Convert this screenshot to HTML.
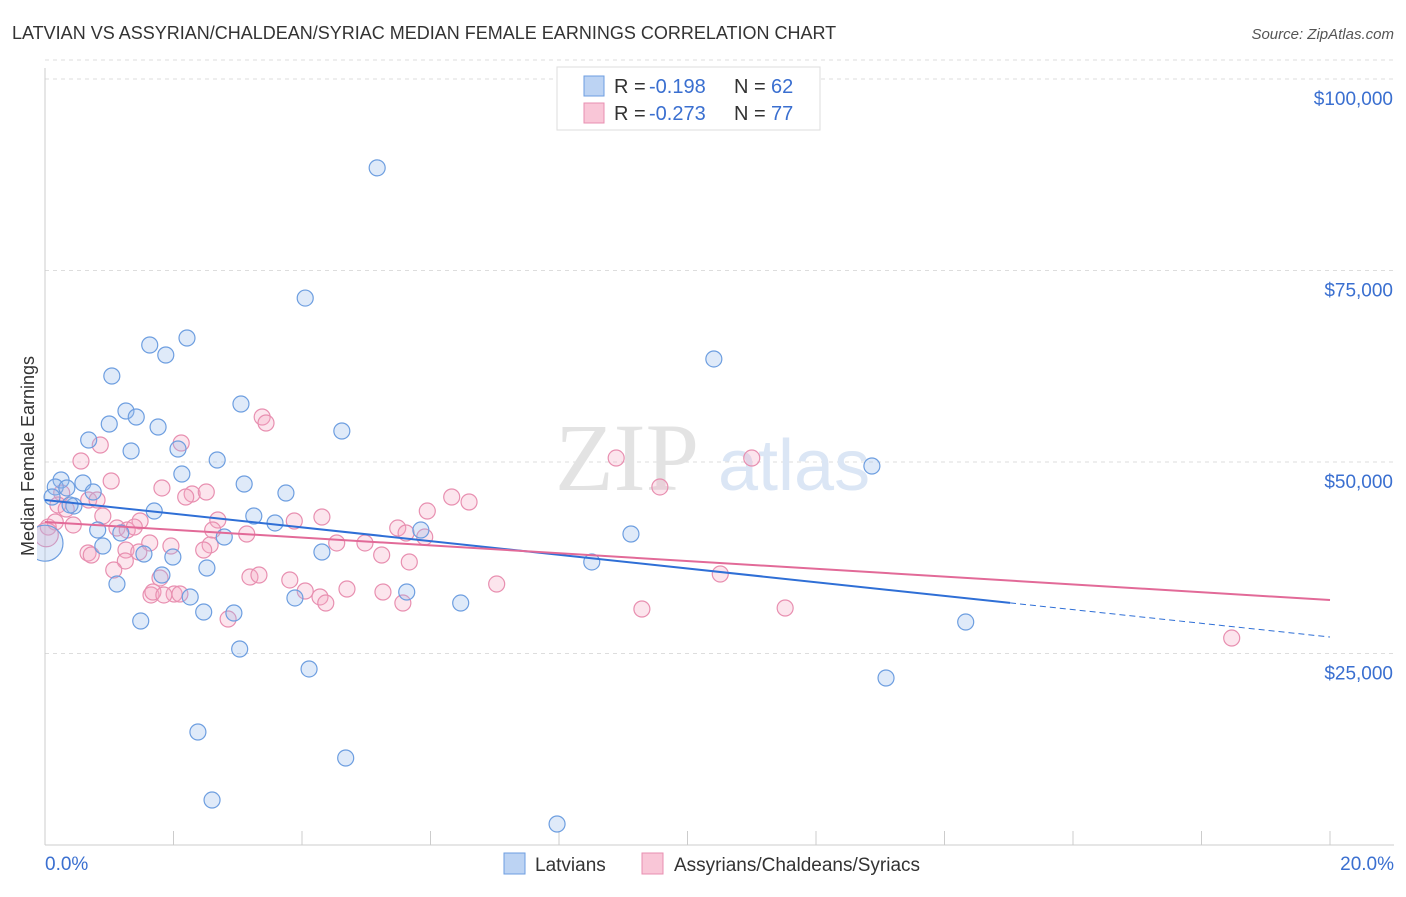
<!DOCTYPE html>
<html><head><meta charset="utf-8"><style>
body{margin:0;background:#fff;font-family:"Liberation Sans",sans-serif;}
</style></head><body>
<svg width="1406" height="892" xmlns="http://www.w3.org/2000/svg" style="font-family:'Liberation Sans',sans-serif">
<defs><clipPath id="plotclip"><rect x="37" y="60" width="1360" height="785"/></clipPath></defs>
<text x="12" y="39" font-size="18" fill="#333">LATVIAN VS ASSYRIAN/CHALDEAN/SYRIAC MEDIAN FEMALE EARNINGS CORRELATION CHART</text>
<text x="1394" y="39" font-size="15" fill="#555" text-anchor="end" font-style="italic">Source: ZipAtlas.com</text>
<g id="grid"></g>
<text x="555" y="490" font-size="96" fill="#e3e3e3" font-family="Liberation Serif,serif">ZIP</text>
<text x="718" y="490" font-size="72" fill="#dbe6f5">atlas</text>
<text transform="translate(34,456) rotate(-90)" font-size="18" fill="#333" text-anchor="middle">Median Female Earnings</text>
<g id="marks" clip-path="url(#plotclip)"></g>
<g id="lines"></g>
<g>
<rect x="557" y="67" width="263" height="63" fill="#fff" stroke="#ddd"/>
<rect x="584" y="76" width="20" height="20" fill="#bcd3f3" stroke="#6d9ee0"/>
<rect x="584" y="103" width="20" height="20" fill="#f9c6d7" stroke="#e88fb0"/>
<text x="614" y="93" font-size="20" fill="#333">R =</text>
<text x="649" y="93" font-size="20" fill="#3a6fd0">-0.198</text>
<text x="734" y="93" font-size="20" fill="#333">N =</text>
<text x="771" y="93" font-size="20" fill="#3a6fd0">62</text>
<text x="614" y="120" font-size="20" fill="#333">R =</text>
<text x="649" y="120" font-size="20" fill="#3a6fd0">-0.273</text>
<text x="734" y="120" font-size="20" fill="#333">N =</text>
<text x="771" y="120" font-size="20" fill="#3a6fd0">77</text>
</g>
<g>
<rect x="504" y="853" width="21" height="21" fill="#bcd3f3" stroke="#6d9ee0"/>
<text x="535" y="871" font-size="19" fill="#333">Latvians</text>
<rect x="642" y="853" width="21" height="21" fill="#f9c6d7" stroke="#e88fb0"/>
<text x="674" y="871" font-size="19" fill="#333">Assyrians/Chaldeans/Syriacs</text>
</g>
</svg>
<script>
const xTicks=[0,2,4,6,8,10,12,14,16,18,20];
const yTicks=[25000,50000,75000,100000];
const yTickLabels=["$25,000","$50,000","$75,000","$100,000"];
const blueX=[5.17,4.05,2.21,1.63,1.88,10.41,1.04,1.26,1.42,3.05,1.00,1.76,4.62,0.68,1.34,2.07,2.68,12.87,2.13,0.25,0.59,0.16,0.34,3.10,0.75,3.75,0.11,0.45,0.39,1.70,3.25,3.58,0.82,1.18,2.79,9.12,5.85,4.31,0.90,1.54,1.99,8.51,2.52,1.82,1.12,5.63,3.89,2.26,6.47,2.94,2.47,1.49,14.33,3.03,4.11,13.09,2.38,4.68,2.60,7.97,0.0];
const blueY=[88400,71400,66190,65275,63970,63450,61230,56660,55875,57570,54960,54570,54050,52870,51440,51700,50260,49480,48430,47650,47260,46740,46610,47130,46080,45950,45430,44260,44390,43600,42950,42040,41120,40730,40210,40600,41120,38250,39030,37990,37600,36950,36160,35250,34070,33030,32250,32380,31590,30290,30420,29240,29110,25590,22980,21800,14750,11360,5870,2740,39400];
const pinkX=[3.38,3.44,2.12,0.86,0.56,8.89,11.00,1.03,1.82,9.57,2.29,2.51,2.19,6.33,6.60,0.26,0.68,0.81,0.20,0.33,5.95,4.31,3.88,2.69,0.90,1.48,0.44,1.12,1.28,1.39,5.49,5.62,5.91,2.61,3.14,0.05,0.16,4.54,4.98,1.63,2.57,1.96,2.47,0.67,0.72,1.26,1.46,5.24,5.67,1.25,1.07,3.19,3.33,1.79,3.81,7.03,10.51,4.05,4.70,1.65,2.01,5.26,1.68,1.85,2.10,4.28,4.37,5.57,9.29,11.52,2.85,18.47,0.02];
const pinkY=[55875,55090,52480,52220,50130,50520,50520,47520,46610,46740,45820,46080,45430,45430,44780,45950,45040,45040,44390,43860,43600,42820,42300,42430,42950,42300,41780,41380,41120,41510,41380,40730,40210,41120,40600,41510,42170,39430,39430,39430,39170,39030,38510,38120,37860,38510,38250,37860,36950,37080,35900,34990,35250,34860,34600,34070,35380,33160,33420,32640,32770,33030,33030,32640,32770,32380,31590,31590,30810,30940,29500,27020,40500];
const blueFit=[45040,-894.5];const pinkFit=[42170,-509.5];const blueSolidEnd=15.02;
const X=v=>45+v/20*1285, Y=v=>845-v/130.55;
const NS="http://www.w3.org/2000/svg";
function mk(t,a,p){const e=document.createElementNS(NS,t);for(const k in a)e.setAttribute(k,a[k]);p.appendChild(e);return e;}
const grid=document.getElementById('grid');
yTicks.forEach((v,i)=>{
 const l=mk('line',{x1:45,x2:1394,y1:Y(v),y2:Y(v),stroke:'#ddd','stroke-dasharray':'4,4'},grid);
 
 
 const t=mk('text',{x:1393,y:Y(v)+26,'font-size':19,fill:'#3a6fd0','text-anchor':'end'},grid);t.textContent=yTickLabels[i];
 
 
});
mk('line',{x1:45,x2:1394,y1:Y(100000)-19,y2:Y(100000)-19,stroke:'#ddd','stroke-dasharray':'4,4'},grid);
mk('line',{x1:45,x2:45,y1:68,y2:845,stroke:'#ccc'},grid);
mk('line',{x1:45,x2:1394,y1:845,y2:845,stroke:'#ccc'},grid);
xTicks.forEach(v=>{const l=mk('line',{x1:X(v),x2:X(v),y1:831,y2:845,stroke:'#ccc'},grid);
 
 });
let t=mk('text',{x:45,y:870,'font-size':19,fill:'#3a6fd0'},grid);t.textContent='0.0%';


t=mk('text',{x:1394,y:870,'font-size':19,fill:'#3a6fd0','text-anchor':'end'},grid);t.textContent='20.0%';


const marks=document.getElementById('marks');
pinkX.forEach((x,i)=>{const c=mk('circle',{cx:X(x),cy:Y(pinkY[i]),r:i==pinkX.length-1?12:8,fill:'rgba(244,170,196,0.3)',stroke:'#e88fb0','stroke-width':1.2},marks);
 
 });
blueX.forEach((x,i)=>{const c=mk('circle',{cx:X(x),cy:Y(blueY[i]),r:i==blueX.length-1?18:8,fill:'rgba(150,186,235,0.3)',stroke:'#6d9ee0','stroke-width':1.2},marks);
 
 });
const lines=document.getElementById('lines');
const f=(p,x)=>p[0]+p[1]*x;
let l=mk('line',{x1:X(0),y1:Y(f(blueFit,0)),x2:X(blueSolidEnd),y2:Y(f(blueFit,blueSolidEnd)),stroke:'#2f6fd6','stroke-width':2},lines);


l=mk('line',{x1:X(blueSolidEnd),y1:Y(f(blueFit,blueSolidEnd)),x2:X(20),y2:Y(f(blueFit,20)),stroke:'#2f6fd6','stroke-width':1,'stroke-dasharray':'6,4'},lines);


l=mk('line',{x1:X(0),y1:Y(f(pinkFit,0)),x2:X(20),y2:Y(f(pinkFit,20)),stroke:'#e26a98','stroke-width':2},lines);


</script>
</body></html>
